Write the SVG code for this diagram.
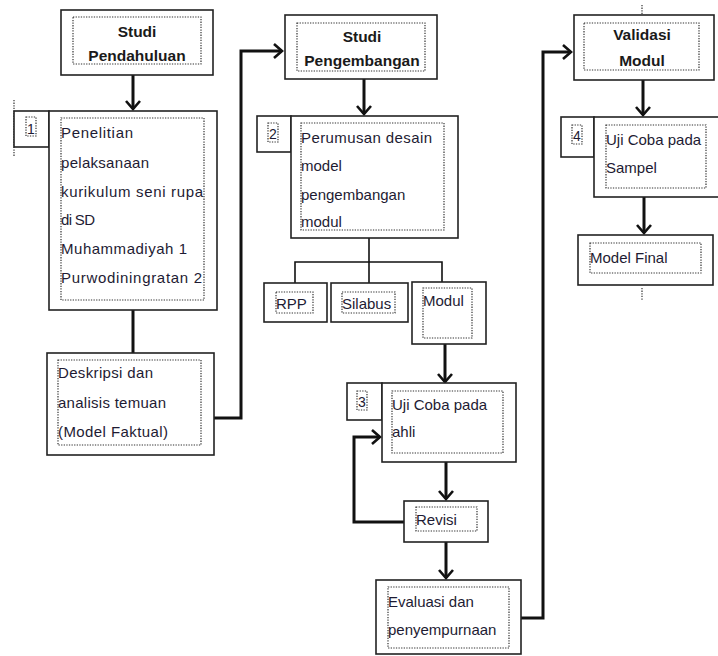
<svg xmlns="http://www.w3.org/2000/svg" width="718" height="656" viewBox="0 0 718 656">
<defs>
<marker id="ah" markerUnits="userSpaceOnUse" markerWidth="20" markerHeight="20" refX="10" refY="10" orient="auto">
<path d="M2,3 L10,10 L2,17" fill="none" stroke="#111" stroke-width="2.6"/>
</marker>
<style>
.box{fill:#fff;stroke:#222;stroke-width:1.6}
.dot{fill:none;stroke:#333;stroke-width:1.2;stroke-dasharray:1.3 1.3}
.t{font-family:"Liberation Sans",Arial,sans-serif;font-size:15px;fill:#1e1b33}
.h{font-family:"Liberation Sans",Arial,sans-serif;font-size:15.5px;font-weight:bold;fill:#1a1a1a;text-anchor:middle}
.n{font-family:"Liberation Sans",Arial,sans-serif;font-size:14px;fill:#1e1b33;text-anchor:middle}
.c{fill:none;stroke:#111;stroke-width:3}
.ct{fill:none;stroke:#111;stroke-width:1.6}
</style>
</defs>
<rect width="718" height="656" fill="#fff"/>

<g id="connectors">
<line class="c" x1="133" y1="75" x2="133" y2="109" marker-end="url(#ah)"/>
<line class="c" x1="133" y1="310" x2="133" y2="353"/>
<polyline class="c" points="214,418 241,418 241,51 282,51" marker-end="url(#ah)"/>
<line class="c" x1="364" y1="79" x2="364" y2="114" marker-end="url(#ah)"/>
<line class="ct" x1="369" y1="238" x2="369" y2="262"/>
<polyline class="ct" points="295,283 295,262 442,262 442,282"/>
<line class="ct" x1="369" y1="262" x2="369" y2="283"/>
<line class="c" x1="445" y1="344" x2="445" y2="382" marker-end="url(#ah)"/>
<line class="c" x1="446" y1="462" x2="446" y2="499" marker-end="url(#ah)"/>
<polyline class="c" points="404,522 354,522 354,437 380,437" marker-end="url(#ah)"/>
<line class="c" x1="446" y1="542" x2="446" y2="578" marker-end="url(#ah)"/>
<polyline class="c" points="521,618 543,618 543,52 571,52" marker-end="url(#ah)"/>
<line class="c" x1="643" y1="80" x2="643" y2="115" marker-end="url(#ah)"/>
<line class="c" x1="644" y1="197" x2="644" y2="233" marker-end="url(#ah)"/>
<line class="dot" x1="642" y1="5" x2="642" y2="14"/>
<line class="dot" x1="642" y1="288" x2="642" y2="300"/>
<line class="dot" x1="14" y1="100" x2="14" y2="156"/>
</g>

<g id="studi-pendahuluan">
<rect class="box" x="61" y="10" width="152" height="65"/>
<rect class="dot" x="73" y="17" width="128" height="47"/>
<text class="h" x="137" y="37">Studi</text>
<text class="h" x="137" y="61">Pendahuluan</text>
</g>

<g id="node-1">
<rect class="box" x="14" y="111" width="35" height="36"/>
<rect class="dot" x="26" y="117" width="10" height="19"/>
<text class="n" x="31" y="134">1</text>
<rect class="box" x="49" y="111" width="168" height="199"/>
<rect class="dot" x="61" y="118" width="143" height="182"/>
<text class="t" x="61" y="138" textLength="72" lengthAdjust="spacing">Penelitian</text>
<text class="t" x="61" y="168" textLength="88" lengthAdjust="spacing">pelaksanaan</text>
<text class="t" x="61" y="197" textLength="142" lengthAdjust="spacing">kurikulum seni rupa</text>
<text class="t" x="61" y="225" textLength="34" lengthAdjust="spacing">di SD</text>
<text class="t" x="61" y="254" textLength="126" lengthAdjust="spacing">Muhammadiyah 1</text>
<text class="t" x="61" y="283" textLength="141" lengthAdjust="spacing">Purwodiningratan 2</text>
</g>

<g id="deskripsi">
<rect class="box" x="47" y="353" width="167" height="102"/>
<rect class="dot" x="58" y="360" width="143" height="85"/>
<text class="t" x="58" y="378" textLength="95" lengthAdjust="spacing">Deskripsi dan</text>
<text class="t" x="58" y="408" textLength="108" lengthAdjust="spacing">analisis temuan</text>
<text class="t" x="58" y="437" textLength="110" lengthAdjust="spacing">(Model Faktual)</text>
</g>

<g id="studi-pengembangan">
<rect class="box" x="285" y="15" width="152" height="64"/>
<rect class="dot" x="297" y="23" width="128" height="48"/>
<text class="h" x="362" y="42">Studi</text>
<text class="h" x="362" y="66">Pengembangan</text>
</g>

<g id="node-2">
<rect class="box" x="257" y="116" width="34" height="36"/>
<rect class="dot" x="268" y="123" width="10" height="19"/>
<text class="n" x="273" y="139">2</text>
<rect class="box" x="291" y="116" width="167" height="122"/>
<rect class="dot" x="301" y="123" width="143" height="107"/>
<text class="t" x="301" y="143" textLength="131" lengthAdjust="spacing">Perumusan desain</text>
<text class="t" x="301" y="171">model</text>
<text class="t" x="301" y="200">pengembangan</text>
<text class="t" x="301" y="227">modul</text>
</g>

<g id="rpp">
<rect class="box" x="264" y="283" width="63" height="39"/>
<rect class="dot" x="276" y="292" width="37" height="21"/>
<text class="t" x="276" y="309">RPP</text>
</g>

<g id="silabus">
<rect class="box" x="331" y="283" width="77" height="39"/>
<rect class="dot" x="342" y="292" width="53" height="21"/>
<text class="t" x="342" y="309">Silabus</text>
</g>

<g id="modul">
<rect class="box" x="412" y="282" width="74" height="62"/>
<rect class="dot" x="423" y="288" width="49" height="50"/>
<text class="t" x="423" y="306">Modul</text>
</g>

<g id="node-3">
<rect class="box" x="347" y="383" width="35" height="37"/>
<rect class="dot" x="357" y="391" width="10" height="19"/>
<text class="n" x="362" y="407">3</text>
<rect class="box" x="382" y="383" width="134" height="79"/>
<rect class="dot" x="392" y="391" width="111" height="62"/>
<text class="t" x="392" y="410">Uji Coba pada</text>
<text class="t" x="392" y="437">ahli</text>
</g>

<g id="revisi">
<rect class="box" x="404" y="501" width="84" height="41"/>
<rect class="dot" x="416" y="507" width="61" height="24"/>
<text class="t" x="416" y="525">Revisi</text>
</g>

<g id="evaluasi">
<rect class="box" x="376" y="580" width="145" height="74"/>
<rect class="dot" x="388" y="587" width="121" height="61"/>
<text class="t" x="388" y="607">Evaluasi dan</text>
<text class="t" x="388" y="635">penyempurnaan</text>
</g>

<g id="validasi-modul">
<rect class="box" x="574" y="15" width="140" height="65"/>
<rect class="dot" x="584" y="23" width="115" height="47"/>
<text class="h" x="642" y="40">Validasi</text>
<text class="h" x="642" y="66">Modul</text>
</g>

<g id="node-4">
<rect class="box" x="561" y="117" width="33" height="40"/>
<rect class="dot" x="572" y="125" width="10" height="19"/>
<text class="n" x="577" y="141">4</text>
<rect class="box" x="594" y="117" width="126" height="80"/>
<rect class="dot" x="606" y="125" width="100" height="63"/>
<text class="t" x="606" y="145">Uji Coba pada</text>
<text class="t" x="606" y="173">Sampel</text>
</g>

<g id="model-final">
<rect class="box" x="578" y="235" width="135" height="50"/>
<rect class="dot" x="590" y="243" width="111" height="30"/>
<text class="t" x="590" y="263">Model Final</text>
</g>
</svg>
